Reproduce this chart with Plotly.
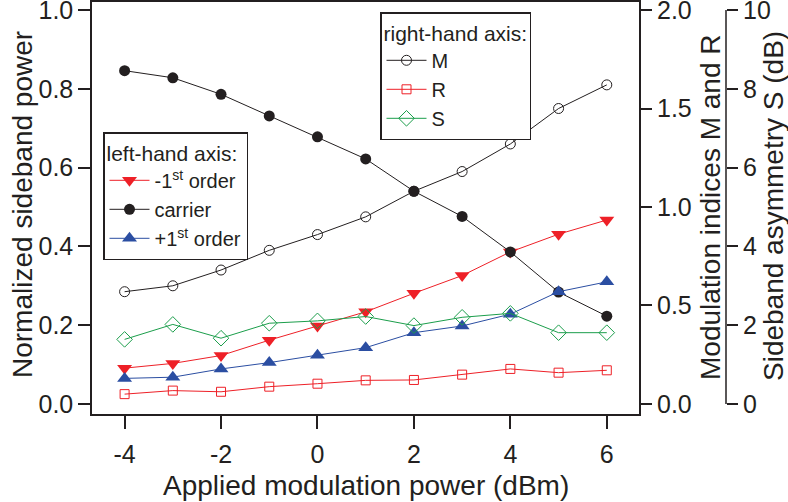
import plotly.graph_objects as go

# ---- data ----
power_dbm = [-4, -3, -2, -1, 0, 1, 2, 3, 4, 5, 6]
minus_first = [0.091, 0.103, 0.123, 0.162, 0.198, 0.234, 0.281, 0.326, 0.386, 0.431, 0.467]
carrier = [0.846, 0.828, 0.786, 0.731, 0.678, 0.622, 0.540, 0.476, 0.386, 0.284, 0.223]
plus_first = [0.065, 0.068, 0.089, 0.105, 0.124, 0.143, 0.181, 0.198, 0.228, 0.285, 0.310]
M_index = [0.57, 0.60, 0.68, 0.78, 0.86, 0.95, 1.08, 1.18, 1.32, 1.50, 1.62]
R_index = [0.05, 0.068, 0.062, 0.088, 0.103, 0.12, 0.122, 0.149, 0.178, 0.159, 0.171]
S_asym = [1.64, 2.02, 1.67, 2.05, 2.11, 2.22, 1.99, 2.20, 2.30, 1.81, 1.81]

x_ticks = [-4, -2, 0, 2, 4, 6]
x_tick_text = ["-4", "-2", "0", "2", "4", "6"]
left_ticks = [0.0, 0.2, 0.4, 0.6, 0.8, 1.0]
mid_ticks = [0.0, 0.5, 1.0, 1.5, 2.0]
s_ticks = [0, 2, 4, 6, 8, 10]

INK = "#231f20"
RED = "#ee2027"
BLUE = "#2b4ea2"
GREEN = "#1b9e4b"
FONT = "Liberation Sans, Arial, sans-serif"

fig = go.Figure()

# right-hand axis traces
fig.add_trace(go.Scatter(x=power_dbm, y=M_index, name="M", yaxis="y2", legend="legend2",
                         mode="lines+markers", line=dict(color=INK, width=1),
                         marker=dict(symbol="circle-open", size=10, color=INK, line=dict(width=1))))
fig.add_trace(go.Scatter(x=power_dbm, y=R_index, name="R", yaxis="y2", legend="legend2",
                         mode="lines+markers", line=dict(color=RED, width=1),
                         marker=dict(symbol="square-open", size=9, color=RED, line=dict(width=1))))
fig.add_trace(go.Scatter(x=power_dbm, y=S_asym, name="S", yaxis="y3", legend="legend2",
                         mode="lines+markers", line=dict(color=GREEN, width=1),
                         marker=dict(symbol="diamond-open", size=12, color=GREEN, line=dict(width=1))))

# left-hand axis traces
fig.add_trace(go.Scatter(x=power_dbm, y=minus_first, name="-1<sup>st</sup> order", legend="legend",
                         mode="lines+markers", line=dict(color=RED, width=1),
                         marker=dict(symbol="triangle-down", size=13, color=RED)))
fig.add_trace(go.Scatter(x=power_dbm, y=carrier, name="carrier", legend="legend",
                         mode="lines+markers", line=dict(color=INK, width=1),
                         marker=dict(symbol="circle", size=11, color=INK)))
fig.add_trace(go.Scatter(x=power_dbm, y=plus_first, name="+1<sup>st</sup> order", legend="legend",
                         mode="lines+markers", line=dict(color=BLUE, width=1),
                         marker=dict(symbol="triangle-up", size=13, color=BLUE)))

L, R_, T, B = 92, 28, 2, 88
W, H = 788, 502
pw = W - L - R_
ph = H - T - B
x_dom_end = (639 - L) / pw
s_pos = (726 - L) / pw

def px_x(px):
    return (px - L) / pw

def px_y(py):
    return (H - B - py) / ph

tickfont = dict(family=FONT, size=25, color=INK)
legfont = dict(family=FONT, size=20, color=INK)
legtitlefont = dict(family=FONT, size=21, color=INK)

fig.update_layout(
    template="none",
    width=W, height=H,
    margin=dict(l=L, r=R_, t=T, b=B, autoexpand=False),
    paper_bgcolor="white", plot_bgcolor="white",
    font=dict(family=FONT, color=INK),
    xaxis=dict(domain=[0, x_dom_end], range=[-4.676, 6.668], tickvals=x_ticks, ticktext=x_tick_text,
               ticks="outside", ticklen=13, tickwidth=1.5, tickcolor=INK,
               showline=True, linecolor=INK, linewidth=1.5, mirror=True, automargin=False,
               showgrid=False, zeroline=False, tickfont=tickfont, ticklabeloverflow="allow",
               ticklabelstandoff=4),
    yaxis=dict(range=[-0.0254, 1.0203], tickvals=left_ticks, tickformat=".1f",
               ticks="outside", ticklen=12, tickwidth=1.5, tickcolor=INK,
               showline=True, linecolor=INK, linewidth=1.5, mirror=True, automargin=False,
               showgrid=False, zeroline=False, tickfont=tickfont, ticklabeloverflow="allow"),
    yaxis2=dict(overlaying="y", side="right", anchor="x", range=[-0.0508, 2.0406],
                tickvals=mid_ticks, tickformat=".1f", automargin=False,
                ticks="outside", ticklen=12, tickwidth=1.5, tickcolor=INK,
                showline=False, showgrid=False, zeroline=False, tickfont=tickfont,
                ticklabeloverflow="allow"),
    yaxis3=dict(overlaying="y", side="right", anchor="free", position=s_pos,
                range=[-0.254, 10.203], tickvals=s_ticks, automargin=False,
                ticks="outside", ticklen=11, tickwidth=1.5, tickcolor=INK,
                showline=False, showgrid=False, zeroline=False, tickfont=tickfont,
                ticklabeloverflow="allow"),
    legend=dict(x=px_x(103), y=px_y(132), xanchor="left", yanchor="top",
                bgcolor="white", bordercolor=INK, borderwidth=1.5, font=legfont,
                title=dict(text="left-hand axis:", font=legtitlefont),
                itemwidth=40, tracegroupgap=0),
    legend2=dict(x=px_x(380), y=px_y(12), xanchor="left", yanchor="top",
                 bgcolor="white", bordercolor=INK, borderwidth=1.5, font=legfont,
                 title=dict(text="right-hand axis:", font=legtitlefont),
                 itemwidth=40, tracegroupgap=0),
    showlegend=True,
)

# spine of the S axis spanning only its 0..10 range
fig.add_shape(type="line", xref="paper", yref="y3", x0=s_pos, x1=s_pos, y0=0, y1=10,
              line=dict(color=INK, width=1.5))

titlefont = dict(family=FONT, size=28, color=INK)
fig.add_annotation(text="Applied modulation power (dBm)", xref="paper", yref="paper",
                   x=px_x(365.5), y=px_y(485), xanchor="center", yanchor="middle",
                   showarrow=False, font=titlefont)
fig.add_annotation(text="Normalized sideband power", xref="paper", yref="paper",
                   x=px_x(22), y=px_y(205), xanchor="center", yanchor="middle",
                   textangle=-90, showarrow=False, font=titlefont)
fig.add_annotation(text="Modulation indices M and R", xref="paper", yref="paper",
                   x=px_x(710), y=px_y(207), xanchor="center", yanchor="middle",
                   textangle=-90, showarrow=False, font=titlefont)
fig.add_annotation(text="Sideband asymmetry S (dB)", xref="paper", yref="paper",
                   x=px_x(773), y=px_y(206), xanchor="center", yanchor="middle",
                   textangle=-90, showarrow=False, font=titlefont)

fig.write_html("out.html", config={"displayModeBar": False},
               post_script="document.body.style.margin='0';")
